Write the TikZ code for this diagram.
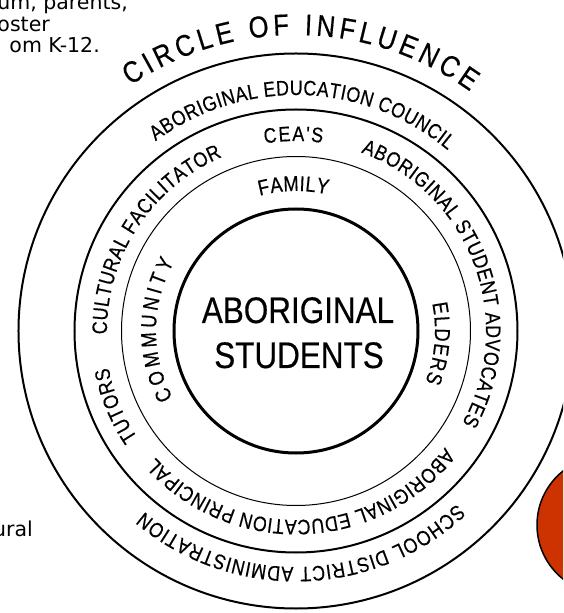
\documentclass[tikz,border=0pt]{standalone}
\usepackage{fontspec}
\setmainfont{Liberation Sans}
\newfontfamily\ringfont[FakeStretch=0.85,FakeBold=0.4]{Liberation Sans}
\newfontfamily\centerfont[FakeStretch=0.85,FakeBold=0.3]{Liberation Sans}
\newfontfamily\docfont{DejaVu Sans}
\usetikzlibrary{decorations.text}
\definecolor{redorange}{RGB}{204,51,0}
\newcommand\rfbig{\ringfont\fontsize{30}{34}\selectfont}
\newcommand\rf{\ringfont\fontsize{21}{25}\selectfont}
\newcommand\rfin{\ringfont\fontsize{21.5}{25}\selectfont}
\begin{document}
\begin{tikzpicture}[x=1pt,y=1pt,
  ring/.style={decorate,decoration={text along path,text align=fit to path,text={#1}}},
  thickring/.style={draw=black,line width=3},
  midring/.style={draw=black,line width=2},
  thinring/.style={draw=black,line width=1},
  doctext/.style={font=\docfont\fontsize{20.5}{25}\selectfont,inner sep=0pt,anchor=base east},
  centertext/.style={font=\centerfont\fontsize{37}{45}\selectfont,inner sep=0pt,anchor=base}
]
\useasboundingbox (-296,-282) rectangle (267,331);
\clip (-296,-282) rectangle (267,331);

% circles
\draw[midring] (0,0) circle[radius=277.5];
\draw[midring] (0,0) circle[radius=221.5];
\draw[thinring] (0,0) circle[radius=174.5];
\draw[thickring] (0,0) circle[radius=122];

% red shape at right
\draw[fill=redorange,line width=1.5] (310,-194) circle[radius=69];

% fragments of text at left
\node[doctext] (l1) at (-168,321) {um, parents,};
\node[doctext] (l2) at (-246,299) {oster};
\node[doctext] (l3) at (-196,278) {om K-12.};
\node[doctext] (l4) at (-263,-205) {ural};

% centre
\node[centertext] (c1) at (2,8) {ABORIGINAL};
\node[centertext] (c2) at (3,-37) {STUDENTS};

% outer title
\path[ring={|\rfbig|CIRCLE OF INFLUENCE}] (124:296) arc[start angle=124,end angle=54,radius=296];

% band 3
\path[ring={|\rf|ABORIGINAL EDUCATION COUNCIL}] (126.5:236) arc[start angle=126.5,end angle=50,radius=236];
\path[ring={|\rf|SCHOOL DISTRICT ADMINISTRATION}] (-47:236) arc[start angle=-47,end angle=-130,radius=236];

% band 2
\path[ring={|\rf|CEA'S}] (99.5:190) arc[start angle=99.5,end angle=82,radius=190];
\path[ring={|\rf|ABORIGINAL STUDENT ADVOCATES}] (70:190) arc[start angle=70,end angle=-29,radius=190];
\path[ring={|\rf|ABORIGINAL EDUCATION PRINCIPAL}] (-38:189) arc[start angle=-38,end angle=-138,radius=189];
\path[ring={|\rf|TUTORS}] (214:191) arc[start angle=214,end angle=191,radius=191];
\path[ring={|\rf|CULTURAL FACILITATOR}] (181:189) arc[start angle=181,end angle=113,radius=189];

% band 1
\path[ring={|\rfin|FAMILY}] (105:140) arc[start angle=105,end angle=77,radius=140];
\path[ring={|\rfin|ELDERS}] (11.5:139) arc[start angle=11.5,end angle=-21.5,radius=139];
\path[ring={|\rfin|COMMUNITY}] (208.5:140) arc[start angle=208.5,end angle=150.5,radius=140];
\end{tikzpicture}
\end{document}
